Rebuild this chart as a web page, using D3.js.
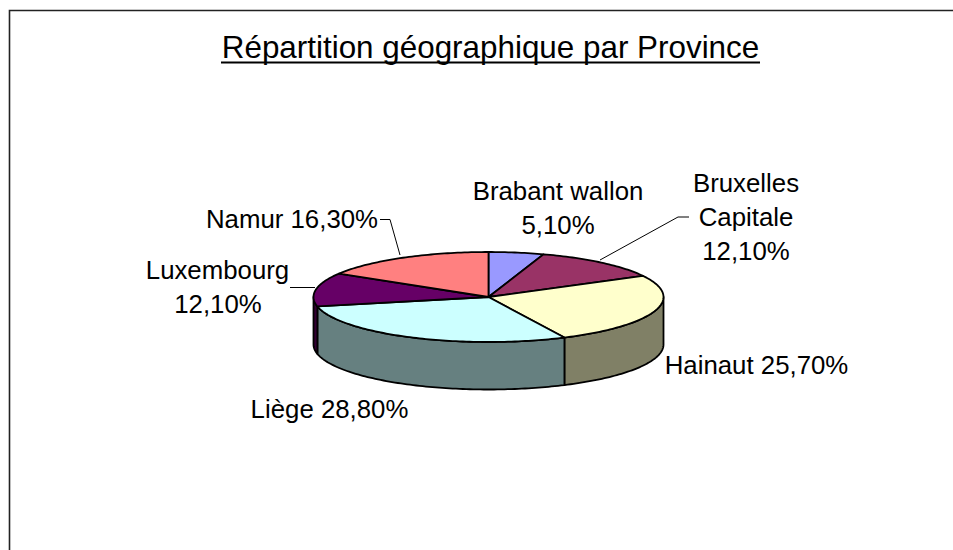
<!DOCTYPE html>
<html>
<head>
<meta charset="utf-8">
<script src="https://cdn.jsdelivr.net/npm/d3@7"></script>
<style>
    html, body { margin: 0; padding: 0; background: #fff; overflow: hidden; }
    text { font-family: "Liberation Sans", Arial, sans-serif; fill: #000; }
</style>
</head>
<body>
<div id="chart"></div>
<script>
// Data
const provinces = ["Brabant wallon", "Bruxelles Capitale", "Hainaut", "Liège", "Luxembourg", "Namur"];
const shares = [5.1, 12.1, 25.7, 28.8, 12.1, 16.3];
const shareLabels = ["5,10%", "12,10%", "25,70%", "28,80%", "12,10%", "16,30%"];
const topColors = ["#9999FF", "#993366", "#FFFFCC", "#CCFFFF", "#660066", "#FF8080"];
const sideColors = ["#4D4D80", "#4D1A33", "#808066", "#668080", "#330033", "#804040"];

const width = 953;
const height = 550;
const cx = 488.5, cy = 297, rx = 175, ry = 45, depth = 47.5;

const svg = d3.select("#chart")
    .append("svg")
    .attr("width", width)
    .attr("height", height);

// Frame runs off the right and bottom of the picture
svg.append("path")
    .attr("d", `M9.5,${height + 5}V10.5H${width + 5}`)
    .attr("fill", "none")
    .attr("stroke", "#222")
    .attr("stroke-width", 1.6);

// Title
svg.append("text")
    .attr("x", 490.5)
    .attr("y", 58)
    .attr("text-anchor", "middle")
    .style("font-size", "31.4px")
    .text("Répartition géographique par Province");

svg.append("line")
    .attr("x1", 221).attr("x2", 760)
    .attr("y1", 62.5).attr("y2", 62.5)
    .attr("stroke", "#000")
    .attr("stroke-width", 2);

const pie = d3.pie().sort(null).value(d => d);
const slices = pie(shares);

// Projects a pie angle onto the tilted ellipse
const px = a => cx + rx * Math.sin(a);
const py = a => cy - ry * Math.cos(a);

function arcPoints(a0, a1) {
    const n = Math.max(2, Math.ceil((a1 - a0) / 0.02));
    return d3.range(n + 1).map(i => a0 + (a1 - a0) * i / n);
}

const line = d3.line();

// Wall of the pie: only the front half, from 90 to 270 degrees
slices.forEach(function (s, i) {
    const a0 = Math.max(s.startAngle, Math.PI / 2);
    const a1 = Math.min(s.endAngle, Math.PI * 1.5);
    if (a1 <= a0) return;
    const pts = arcPoints(a0, a1);
    const outline = pts.map(a => [px(a), py(a)])
        .concat(pts.slice().reverse().map(a => [px(a), py(a) + depth]));
    svg.append("path")
        .attr("d", line(outline) + "Z")
        .attr("fill", sideColors[i])
        .attr("stroke", "#000")
        .attr("stroke-width", 1.8)
        .attr("stroke-linejoin", "round");
});

// Top face
slices.forEach(function (s, i) {
    const outline = [[cx, cy]].concat(arcPoints(s.startAngle, s.endAngle).map(a => [px(a), py(a)]));
    svg.append("path")
        .attr("d", line(outline) + "Z")
        .attr("fill", topColors[i])
        .attr("stroke", "#000")
        .attr("stroke-width", 1.8)
        .attr("stroke-linejoin", "round");
});

// Leader lines
const leaderLines = [
    [[380, 219.5], [390, 219.5], [400, 255]],
    [[290, 287.5], [315, 287.5]],
    [[689, 217], [678, 217], [600, 260]]
];
leaderLines.forEach(function (pts) {
    svg.append("path")
        .attr("d", line(pts))
        .attr("fill", "none")
        .attr("stroke", "#000")
        .attr("stroke-width", 1);
});

// Labels, one entry per text line
const labelLines = [
    { x: 558, y: 200, text: provinces[0] },
    { x: 558, y: 234, text: shareLabels[0] },
    { x: 746, y: 192, text: "Bruxelles" },
    { x: 746, y: 226, text: "Capitale" },
    { x: 746, y: 260, text: shareLabels[1] },
    { x: 756.5, y: 374, text: provinces[2] + " " + shareLabels[2] },
    { x: 329.5, y: 418, text: provinces[3] + " " + shareLabels[3] },
    { x: 217.5, y: 279, text: provinces[4] },
    { x: 218, y: 313, text: shareLabels[4] },
    { x: 292, y: 228, text: provinces[5] + " " + shareLabels[5] }
];
svg.selectAll(".label")
    .data(labelLines)
    .enter()
    .append("text")
    .attr("class", "label")
    .attr("x", d => d.x)
    .attr("y", d => d.y)
    .attr("text-anchor", "middle")
    .style("font-size", "25.8px")
    .text(d => d.text);
</script>
</body>
</html>
